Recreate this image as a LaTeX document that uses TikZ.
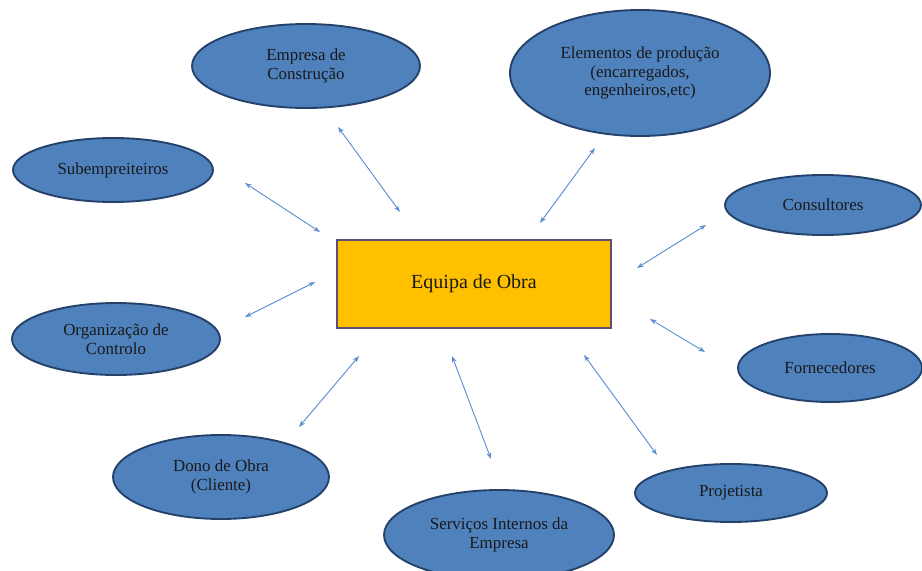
\documentclass[tikz,border=0pt]{standalone}
\usepackage{fontspec}
\setmainfont{Liberation Serif}
\usetikzlibrary{shapes.geometric,arrows.meta}
\definecolor{ellfill}{HTML}{4F81BD}
\definecolor{elldraw}{HTML}{24416A}
\definecolor{boxfill}{HTML}{FFC000}
\definecolor{boxdraw}{HTML}{5F4E78}
\definecolor{arrowcol}{HTML}{5B8FD0}
\tikzset{
  ell/.style 2 args={ellipse, fill=ellfill, draw=elldraw, line width=1.4pt,
    minimum width=#1*0.75pt, minimum height=#2*0.75pt, inner sep=0pt,
    align=center, font=\fontsize{12.7}{14}\selectfont, text=black!90},
  centerbox/.style={rectangle, fill=boxfill, draw=boxdraw, line width=1.8pt,
    minimum width=274*0.75pt, minimum height=88*0.75pt, inner sep=0pt,
    font=\fontsize{15}{18}\selectfont, text=black!90},
  link/.style={draw=arrowcol, line width=0.7pt,
    {Stealth[length=5pt,width=3.6pt]}-{Stealth[length=5pt,width=3.6pt]}}
}
\begin{document}
\begin{tikzpicture}[x=0.75pt,y=-0.75pt]
\fill[white] (0,0) rectangle (922,571);
\clip (0,0) rectangle (922,571);

% central box
\node[centerbox] (equipa) at (474,284) {Equipa de Obra};

% ellipses
\node[ell={228}{84}] (emp) at (306,66) {Empresa de\\Construção};
\node[ell={260}{126}] (ele) at (640,73) {Elementos de produção\\(encarregados,\\engenheiros,etc)};
\node[ell={200}{64}] (sub) at (113,170) {Subempreiteiros};
\node[ell={196}{60}] (con) at (823,205) {Consultores};
\node[ell={208}{72}] (org) at (116,339) {Organização de\\Controlo};
\node[ell={184}{68}] (forn) at (830,368) {Fornecedores};
\node[ell={216}{84}] (dono) at (221,477) {Dono de Obra\\(Cliente)};
\node[ell={230}{90}] (serv) at (499,535) {Serviços Internos da\\Empresa};
\node[ell={192}{58}] (proj) at (731,493) {Projetista};

% arrow end points
\coordinate (a1s) at (338,127); \coordinate (a1e) at (400,212);
\coordinate (a2s) at (245,183); \coordinate (a2e) at (320,232);
\coordinate (a3s) at (595,148); \coordinate (a3e) at (540,223);
\coordinate (a4s) at (706,225); \coordinate (a4e) at (637,268);
\coordinate (a5s) at (245,317); \coordinate (a5e) at (315,282);
\coordinate (a6s) at (705,352); \coordinate (a6e) at (650,319);
\coordinate (a7s) at (657,455); \coordinate (a7e) at (584,355);
\coordinate (a8s) at (491,459); \coordinate (a8e) at (452,356);
\coordinate (a9s) at (299,427); \coordinate (a9e) at (359,356);

\draw[link] (a1s) -- (a1e);
\draw[link] (a2s) -- (a2e);
\draw[link] (a3s) -- (a3e);
\draw[link] (a4s) -- (a4e);
\draw[link] (a5s) -- (a5e);
\draw[link] (a6s) -- (a6e);
\draw[link] (a7s) -- (a7e);
\draw[link] (a8s) -- (a8e);
\draw[link] (a9s) -- (a9e);
\end{tikzpicture}
\end{document}
